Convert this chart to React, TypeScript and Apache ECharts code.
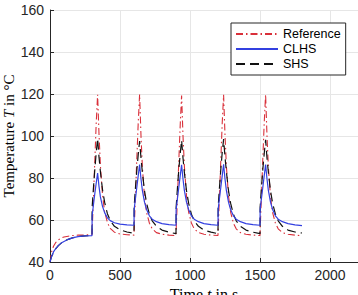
import React, { useEffect, useRef } from "react";
import * as echarts from "echarts";

const timeS = [
  0, 10, 25, 40, 60, 80, 100, 130, 160, 200, 250, 300,
  301, 310, 320, 330, 340, 350, 360, 375, 390, 410, 430, 460, 500, 550, 600,
  601, 610, 620, 630, 640, 650, 660, 675, 690, 710, 730, 760, 800, 850, 900,
  901, 910, 920, 930, 940, 950, 960, 975, 990, 1010, 1030, 1060, 1100, 1150, 1200,
  1201, 1210, 1220, 1230, 1240, 1250, 1260, 1275, 1290, 1310, 1330, 1360, 1400, 1450, 1500,
  1501, 1510, 1520, 1530, 1540, 1550, 1560, 1575, 1590, 1610, 1630, 1660, 1700, 1750, 1800,
];

const referenceT = [
  40, 44.5, 47.5, 49.2, 50.6, 51.4, 51.9, 52.3, 52.6, 52.8, 52.9, 53,
  55, 70, 88, 106, 119.6, 101, 86, 72, 64, 58.8, 56, 54.2, 53.3, 53, 52.8,
  55, 71, 89, 106, 119.8, 100, 85, 71, 63.5, 58.5, 55.8, 54, 53.2, 52.8, 52.6,
  55, 70, 88, 105, 119.3, 100, 85.5, 71.5, 63.8, 58.6, 55.8, 54, 53.2, 52.8, 52.6,
  55, 70.5, 88.5, 106, 119.6, 100.5, 85.5, 71.5, 63.8, 58.5, 55.8, 54, 53.2, 52.8, 52.6,
  55, 71, 89, 106, 119.8, 100, 85, 71, 63.5, 58.5, 55.8, 54, 53.2, 52.8, 52.5,
];

const clhsT = [
  40, 42.3, 44.8, 46.3, 47.9, 49, 49.8, 50.8, 51.5, 52.1, 52.4, 52.6,
  62, 67, 72.5, 77.5, 82.3, 76, 71, 66.5, 63.5, 61, 59.7, 58.7, 58, 57.7, 57.5,
  65, 70, 75.5, 81, 86.4, 79.5, 74, 68.5, 65, 62, 60.4, 59.2, 58.3, 57.8, 57.5,
  65, 70, 75.5, 81, 86.3, 79.5, 74, 68.5, 65, 62, 60.4, 59.2, 58.3, 57.8, 57.5,
  65, 70, 75.5, 81, 86.5, 79.5, 74, 68.5, 65, 62, 60.4, 59.2, 58.3, 57.8, 57.5,
  65, 70, 75.5, 81, 86.4, 79.5, 74, 68.5, 65, 62, 60.4, 59.2, 58.3, 57.7, 57.3,
];

const shsT = [
  40, 42.5, 44.5, 46.2, 47.8, 49, 49.8, 50.8, 51.5, 52.1, 52.4, 52.6,
  66, 75, 84, 92, 98.8, 90, 83, 74.5, 68.5, 63, 59.8, 57, 55.3, 54.3, 53.6,
  66, 75, 83.5, 91, 97.6, 89.5, 82.5, 74, 68, 62.8, 59.6, 57, 55.2, 54.2, 53.5,
  66, 75, 84, 91.5, 98, 89.5, 82.5, 74, 68, 62.8, 59.6, 57, 55.2, 54.2, 53.5,
  66, 75, 84, 92, 98.5, 90, 83, 74, 68, 62.8, 59.6, 57, 55.2, 54.2, 53.5,
  66, 75, 84, 91.5, 98.2, 89.5, 82.5, 74, 68, 62.8, 59.6, 57, 55.2, 54.3, 53.8,
];

const seriesNames = ["Reference", "CLHS", "SHS"];

const pairs = (vals: number[]) => timeS.map((t, i) => [t, vals[i]]);

export default function App() {
  const ref = useRef<HTMLDivElement>(null);
  useEffect(() => {
    if (!ref.current) return;
    const chart = echarts.init(ref.current, undefined, { renderer: "svg" });
    const axisColor = "#262626";
    const sans = "Liberation Sans";
    const serif = "Liberation Serif";
    const nameStyle = (size: number) => ({
      fontFamily: serif,
      fontSize: size,
      color: "#000",
      rich: { i: { fontFamily: serif, fontStyle: "italic", fontSize: size, color: "#000" } },
    });
    chart.setOption({
      animation: false,
      backgroundColor: "#ffffff",
      grid: { left: 50, right: 0, top: 10, bottom: 33, containLabel: false, outerBoundsMode: "none" },
      legend: {
        data: seriesNames,
        orient: "vertical",
        left: 231,
        top: 23,
        padding: [4, 5, 4, 4],
        itemWidth: 42,
        itemHeight: 10,
        itemGap: 1,
        borderColor: axisColor,
        borderWidth: 1,
        borderRadius: 0,
        backgroundColor: "#ffffff",
        itemStyle: { opacity: 0, borderWidth: 0 },
        textStyle: { fontFamily: sans, fontSize: 12.5, color: "#000", lineHeight: 14 },
      },
      xAxis: {
        type: "value",
        min: 0,
        max: 2200,
        interval: 500,
        name: "Time {i|t} in s",
        nameLocation: "middle",
        nameGap: 24,
        nameMoveOverlap: false,
        nameTextStyle: nameStyle(16),
        axisLine: { show: true, lineStyle: { color: axisColor, width: 1 } },
        axisTick: { show: true, inside: true, length: 4, lineStyle: { color: axisColor } },
        axisLabel: {
          fontFamily: sans,
          fontSize: 14,
          color: axisColor,
          margin: 6,
          showMaxLabel: false,
          formatter: (v: number) => String(v),
        },
        splitLine: { show: true, lineStyle: { color: "#e6e6e6", width: 1 } },
      },
      yAxis: {
        type: "value",
        min: 40,
        max: 160,
        interval: 20,
        name: "Temperature {i|T} in °C",
        nameLocation: "middle",
        nameGap: 34,
        nameMoveOverlap: false,
        nameTextStyle: nameStyle(15),
        axisLine: { show: true, lineStyle: { color: axisColor, width: 1 } },
        axisTick: { show: true, inside: true, length: 4, lineStyle: { color: axisColor } },
        axisLabel: { fontFamily: sans, fontSize: 14, color: axisColor, margin: 6 },
        splitLine: { show: true, lineStyle: { color: "#e6e6e6", width: 1 } },
      },
      series: [
        {
          name: seriesNames[0],
          type: "line",
          data: pairs(referenceT),
          symbol: "none",
          showSymbol: false,
          z: 1,
          lineStyle: { color: "#d9303a", width: 1.1, type: [7, 3, 1.5, 3] },
          itemStyle: { color: "#d9303a" },
        },
        {
          name: seriesNames[1],
          type: "line",
          data: pairs(clhsT),
          symbol: "none",
          showSymbol: false,
          z: 3,
          lineStyle: { color: "#3340e0", width: 1.2, type: "solid" },
          itemStyle: { color: "#3340e0" },
        },
        {
          name: seriesNames[2],
          type: "line",
          data: pairs(shsT),
          symbol: "none",
          showSymbol: false,
          z: 2,
          lineStyle: { color: "#111111", width: 1.2, type: [9, 5] },
          itemStyle: { color: "#111111" },
        },
      ],
    });
    return () => chart.dispose();
  }, []);
  return (
    <div
      ref={ref}
      style={{ position: "fixed", left: 0, top: 0, width: 358, height: 295, background: "#fff" }}
    />
  );
}
